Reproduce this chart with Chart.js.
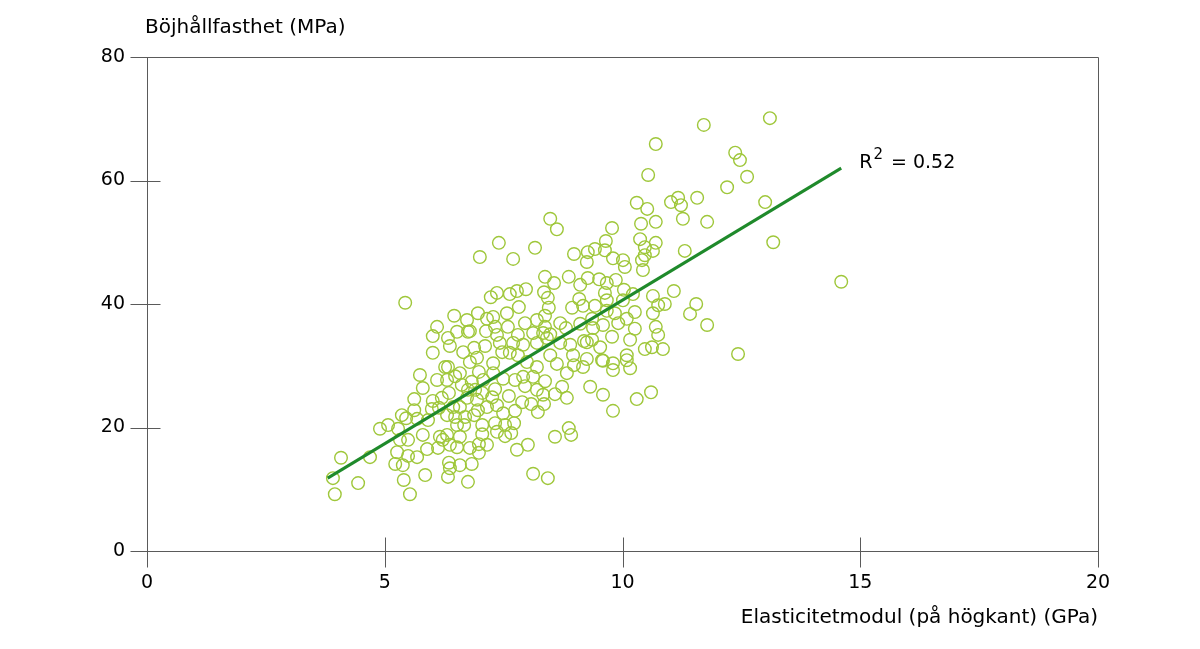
<!DOCTYPE html>
<html lang="sv">
<head>
<meta charset="utf-8">
<script src="https://cdn.jsdelivr.net/npm/chart.js@4"></script>
<style>
  html, body { margin: 0; background: #fff; }
  #wrap { width: 1200px; height: 649px; position: relative; }
</style>
</head>
<body>
<div id="wrap"><canvas id="styrkaChart"></canvas></div>
<script>
// Elasticitetsmodul (GPa) och böjhållfasthet (MPa)
const elasticitet = [
  3.91, 3.95, 4.08, 4.44, 4.69, 4.90, 5.07, 5.22, 5.26, 5.28, 5.32, 5.36, 5.38, 5.40, 5.43,
  5.45, 5.49, 5.49, 5.53, 5.62, 5.62, 5.68, 5.68, 5.74, 5.80, 5.80, 5.85, 5.89, 5.91,
  6.01, 5.99, 6.14, 6.10, 6.31, 6.27, 6.33, 6.01, 6.01, 6.10, 6.33, 6.37, 6.46, 6.52, 6.75,
  6.65, 6.58, 6.62, 6.48, 6.35, 6.20, 6.31, 6.44, 6.58, 6.75, 6.73, 6.69, 6.48, 6.52, 6.67,
  6.16, 6.22, 6.31, 6.58, 6.52, 6.79, 6.37, 6.12, 6.35, 6.37, 6.58, 6.33, 6.75, 6.73,
  6.88, 6.94, 7.11, 6.79, 6.98, 7.07, 6.83, 6.90, 6.94, 7.05, 7.15, 6.96, 6.88, 7.05, 7.05,
  6.98, 6.98, 6.83, 7.15, 7.00, 6.96, 7.15, 7.13, 6.79, 7.23, 7.36, 7.32, 7.36, 7.40, 7.57,
  7.59, 7.63,
  8.12, 8.43, 7.78, 8.01, 8.58, 8.87, 8.92, 7.53, 7.36, 7.66, 7.32, 7.72, 7.49, 7.74, 8.22,
  7.36, 7.61, 7.89, 8.08, 8.35, 8.58, 8.83, 8.73, 8.33, 8.20, 7.95, 7.32, 7.74, 7.49, 8.37,
  8.12, 7.91, 8.83, 8.62, 8.48, 8.20, 7.99, 7.80, 7.63, 7.47, 7.42, 7.70, 7.91, 8.20, 8.41,
  8.69, 8.90, 8.96, 9.17, 9.32, 9.59, 9.80, 9.80, 9.80, 9.57, 9.53, 9.25, 9.78, 7.28, 7.28,
  7.26, 7.80, 8.12, 8.33, 7.53,
  8.48, 8.62, 8.16, 7.70, 8.98, 9.25, 9.27, 9.42, 9.63, 9.65, 9.78, 9.80, 8.37, 8.56, 8.87,
  9.11, 9.27, 9.51, 9.67, 9.63, 9.86, 7.78, 7.97, 8.35, 8.43, 7.82, 8.45, 8.37, 8.94, 9.09,
  9.17, 9.42, 8.20, 7.95, 7.28, 8.37, 8.69, 8.81, 9.11, 9.36, 9.38, 9.59, 9.84, 9.91, 8.48,
  11.55, 11.42, 11.78, 12.43, 10.89, 10.75, 10.64, 10.26, 10.09, 10.26, 10.70, 10.75, 10.16,
  10.47, 10.62, 10.85, 10.09, 10.09, 10.16, 10.60, 10.30,
  11.71, 10.70, 12.37, 12.47, 10.54, 12.20, 10.30, 10.52, 11.02, 11.17, 11.23, 11.57, 11.27,
  11.78, 10.39, 10.70, 10.37, 10.70, 10.47, 10.64, 10.47, 10.41, 10.43, 11.31, 10.01, 10.05,
  10.03, 10.22, 10.64, 11.08, 10.01,
  13.10, 12.62, 13.00, 13.17, 14.60, 9.36, 9.19, 9.67, 9.67, 9.25, 9.59, 8.98,
];
const hallfasthet = [
  11.8, 9.2, 15.1, 11.0, 15.2, 19.8, 20.4, 14.1, 16.0, 19.8, 18.0, 22.0, 13.9, 11.5, 40.2,
  21.5, 18.0, 15.4, 9.2, 24.6, 22.8, 21.4, 15.2, 28.5, 26.4, 18.8, 12.3, 16.5, 21.2,
  24.3, 23.0, 23.2, 27.7, 27.7, 29.8, 29.8, 32.1, 34.8, 36.3, 34.5, 33.2, 38.1, 35.5, 35.5,
  32.2, 28.8, 26.9, 28.3, 25.6, 24.8, 22.0, 23.3, 23.3, 26.1, 24.8, 21.7, 21.7, 20.4, 20.4,
  18.5, 18.0, 18.8, 18.5, 16.8, 16.7, 17.2, 16.7, 14.3, 13.4, 13.9, 12.0, 11.2, 37.4,
  32.9, 31.3, 33.2, 30.6, 29.0, 27.7, 27.4, 26.1, 24.5, 25.6, 23.3, 22.8, 22.0, 20.4, 18.9,
  17.3, 15.9, 14.1, 17.2, 47.6, 38.5, 37.6, 35.6, 35.6, 41.1, 41.8, 36.3, 35.0, 49.9, 38.5,
  36.3, 41.6,
  12.5, 11.8, 16.4, 17.2, 18.5, 19.9, 18.8, 18.6, 19.3, 19.1, 20.7, 20.7, 22.3, 22.7, 22.5,
  23.6, 25.1, 24.1, 23.8, 23.8, 25.4, 24.8, 26.6, 25.3, 26.1, 26.7, 26.2, 27.7, 27.9, 27.5,
  28.2, 28.2, 28.8, 30.3, 31.7, 29.8, 30.6, 31.7, 32.1, 32.2, 33.7, 33.7, 33.4, 33.7, 34.5,
  33.7, 33.4, 31.7, 29.8, 26.6, 25.3, 22.7, 29.3, 30.4, 30.9, 33.0, 33.8, 34.7, 30.4, 28.8,
  24.9, 35.0, 35.3, 35.3, 20.4,
  53.8, 52.1, 49.1, 47.3, 48.1, 46.8, 48.4, 48.9, 48.7, 50.2, 52.3, 47.4, 44.4, 43.4, 44.4,
  43.1, 44.2, 44.0, 43.4, 41.8, 43.9, 42.1, 42.4, 41.9, 41.0, 39.5, 39.4, 38.1, 39.4, 40.8,
  39.7, 39.7, 37.4, 36.9, 37.9, 36.3, 36.9, 36.1, 36.8, 37.6, 36.1, 36.6, 38.5, 36.9, 35.1,
  40.0, 38.4, 36.6, 31.9, 40.0, 39.8, 38.5, 38.7, 37.6, 36.0, 36.3, 35.0, 34.2,
  32.7, 33.0, 32.7, 31.7, 30.9, 29.6, 25.7, 24.6,
  69.0, 65.9, 64.5, 63.3, 60.9, 58.9, 56.4, 55.4, 56.5, 57.2, 56.0, 57.2, 53.8,
  53.3, 53.0, 53.3, 50.5, 49.9, 49.2, 48.6, 47.9, 47.1, 45.5, 48.6, 47.1, 46.0,
  42.3, 41.6, 41.3, 42.1, 40.6,
  70.1, 60.6, 56.5, 50.0, 43.6, 34.2, 34.0, 40.6, 38.9, 31.1, 30.8, 30.1,
];

// regressionslinjen, start och slut
const trendX = [3.8, 14.6];
const trendY = [11.8, 62.0];
const r2Value = "0.52";

const xTicks = [0, 5, 10, 15, 20];
const yTicks = [0, 20, 40, 60, 80];

const yTitle = "Böjhållfasthet (MPa)";
const xTitle = "Elasticitetmodul (på högkant) (GPa)";

const axisColor = "#5a5a5a";
const fontFamily = "'DejaVu Sans', Verdana, sans-serif";

const punkter = elasticitet.map((e, i) => ({ x: e, y: hallfasthet[i] }));
const trend = trendX.map((e, i) => ({ x: e, y: trendY[i] }));

// ram upptill/till höger, tickar som korsar axlarna, y-titel och R²
const ramPlugin = {
  id: "ramPlugin",
  beforeDatasetsDraw(chart) {
    const { ctx, chartArea: a, scales } = chart;
    ctx.save();
    ctx.strokeStyle = axisColor;
    ctx.lineWidth = 1;
    ctx.beginPath();
    const top = Math.round(a.top) + 0.5;
    const right = Math.round(a.right) + 0.5;
    const left = Math.round(a.left) + 0.5;
    const bottom = Math.round(a.bottom) + 0.5;
    ctx.moveTo(left, top);
    ctx.lineTo(right, top);
    ctx.lineTo(right, bottom);
    xTicks.forEach((v) => {
      const px = Math.round(scales.x.getPixelForValue(v)) + 0.5;
      ctx.moveTo(px, bottom - 14);
      ctx.lineTo(px, bottom + 16);
    });
    yTicks.forEach((v) => {
      const py = Math.round(scales.y.getPixelForValue(v)) + 0.5;
      ctx.moveTo(left - 17, py);
      ctx.lineTo(left + 13, py);
    });
    ctx.stroke();
    ctx.restore();
  },
  afterDraw(chart) {
    const { ctx, chartArea: a, scales } = chart;
    ctx.save();
    ctx.fillStyle = "#000";
    ctx.font = "20px " + fontFamily;
    ctx.textAlign = "left";
    ctx.textBaseline = "middle";
    ctx.fillText(yTitle, a.left - 2, 28);

    // R² vid linjens slut
    const px = scales.x.getPixelForValue(trendX[1]) + 18;
    const py = scales.y.getPixelForValue(trendY[1]);
    ctx.textBaseline = "alphabetic";
    ctx.font = "19px " + fontFamily;
    ctx.fillText("R", px, py);
    let w = ctx.measureText("R").width;
    ctx.font = "15px " + fontFamily;
    ctx.fillText("2", px + w + 1, py - 9);
    w += ctx.measureText("2").width + 1;
    ctx.font = "19px " + fontFamily;
    ctx.fillText(" = " + r2Value, px + w + 2, py);
    ctx.restore();
  },
};

new Chart(document.getElementById("styrkaChart"), {
  type: "scatter",
  data: {
    datasets: [
      {
        label: "Prov",
        data: punkter,
        pointStyle: "circle",
        pointRadius: 6.3,
        pointHoverRadius: 6.3,
        borderColor: "#9fc73a",
        borderWidth: 1.4,
        backgroundColor: "rgba(0,0,0,0)",
        order: 2,
      },
      {
        label: "Trend",
        data: trend,
        showLine: true,
        borderColor: "#1f8a2b",
        borderWidth: 3,
        pointRadius: 0,
        order: 1,
      },
    ],
  },
  options: {
    responsive: true,
    maintainAspectRatio: false,
    animation: false,
    layout: {
      padding: { top: 57, right: 102, left: 0, bottom: 0 },
    },
    plugins: {
      legend: { display: false },
      tooltip: { enabled: false },
    },
    scales: {
      x: {
        type: "linear",
        min: 0,
        max: 20,
        afterFit: (s) => { s.height = 98; },
        ticks: {
          stepSize: 5,
          padding: 5,
          color: "#000",
          font: { family: fontFamily, size: 19 },
        },
        grid: {
          drawOnChartArea: false,
          drawTicks: true,
          tickLength: 16,
          color: "rgba(0,0,0,0)",
        },
        border: { color: axisColor, width: 1 },
        title: {
          display: true,
          text: xTitle,
          align: "end",
          color: "#000",
          padding: { top: 0, bottom: 19 },
          font: { family: fontFamily, size: 20 },
        },
      },
      y: {
        type: "linear",
        min: 0,
        max: 80,
        afterFit: (s) => { s.width = 147; },
        ticks: {
          stepSize: 20,
          padding: 5,
          color: "#000",
          font: { family: fontFamily, size: 19 },
        },
        grid: {
          drawOnChartArea: false,
          drawTicks: true,
          tickLength: 17,
          color: "rgba(0,0,0,0)",
        },
        border: { color: axisColor, width: 1 },
      },
    },
  },
  plugins: [ramPlugin],
});
</script>
</body>
</html>
